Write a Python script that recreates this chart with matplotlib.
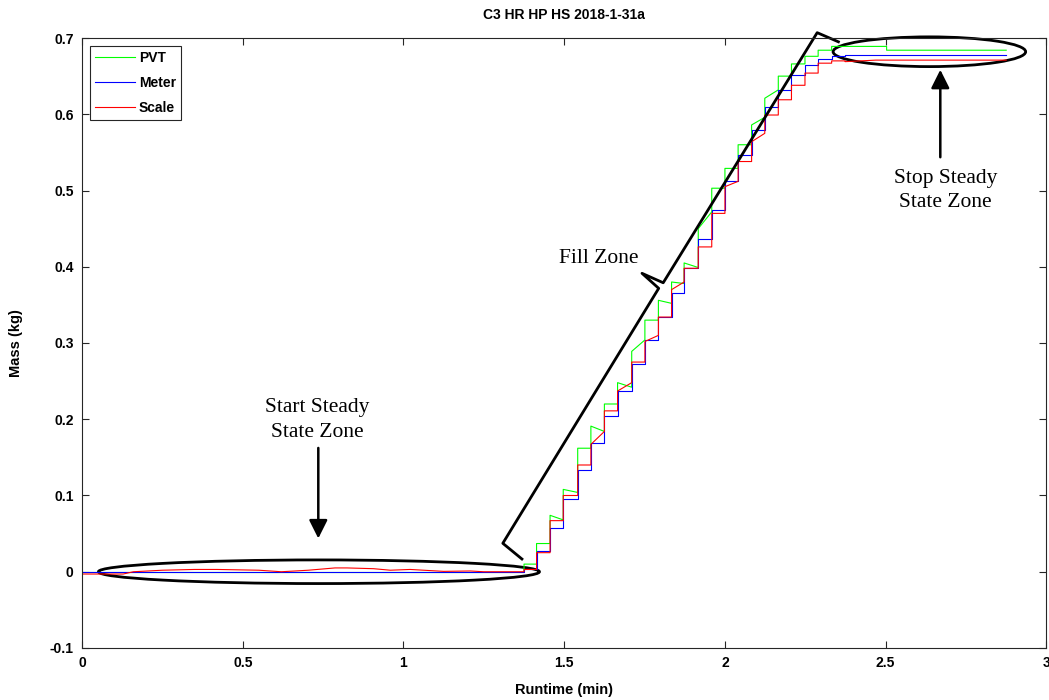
import numpy as np
import matplotlib
matplotlib.use('Agg')
import matplotlib.pyplot as plt
from matplotlib.patches import Ellipse

plt.rcParams['font.family'] = ['Liberation Sans', 'DejaVu Sans']

# fill zone: start time of every plateau (min)
fill_t = [1.375, 1.414, 1.456, 1.497, 1.542, 1.583, 1.625, 1.666, 1.710, 1.751, 1.793, 1.834,
          1.873, 1.917, 1.959, 2.000, 2.041, 2.083, 2.124, 2.166, 2.207, 2.249, 2.290, 2.332]
fill_end = 2.374

# PVT plateau (value just after jump / value just before next jump)
pvt_top = [0.010, 0.037, 0.074, 0.108, 0.162, 0.191, 0.220, 0.248, 0.289, 0.330, 0.356, 0.380,
           0.405, 0.450, 0.503, 0.529, 0.560, 0.586, 0.621, 0.650, 0.666, 0.676, 0.684, 0.689]
pvt_end = [0.010, 0.037, 0.068, 0.104, 0.162, 0.184, 0.220, 0.242, 0.304, 0.330, 0.352, 0.378,
           0.399, 0.472, 0.503, 0.529, 0.560, 0.596, 0.632, 0.650, 0.666, 0.676, 0.684, 0.689]
meter_lvl = [0.003, 0.027, 0.057, 0.095, 0.133, 0.169, 0.204, 0.237, 0.272, 0.304, 0.334, 0.365,
             0.398, 0.436, 0.475, 0.512, 0.547, 0.580, 0.610, 0.632, 0.651, 0.664, 0.672, 0.677]
scale_top = [0.003, 0.025, 0.067, 0.100, 0.140, 0.167, 0.211, 0.237, 0.275, 0.302, 0.334, 0.370,
             0.398, 0.426, 0.470, 0.505, 0.538, 0.564, 0.599, 0.619, 0.638, 0.654, 0.667, 0.670]
scale_end = [0.003, 0.025, 0.067, 0.100, 0.140, 0.184, 0.211, 0.248, 0.275, 0.310, 0.334, 0.380,
             0.398, 0.426, 0.470, 0.512, 0.538, 0.575, 0.599, 0.619, 0.638, 0.654, 0.667, 0.670]

# start steady state (before fill)
pvt_pre_t = [0.0, 1.375]
pvt_pre_m = [-0.001, -0.001]
meter_pre_t = [0.0, 1.375]
meter_pre_m = [0.0, 0.0]
scale_pre_t = [0.0, 0.128, 0.16, 0.25, 0.35, 0.42, 0.55, 0.62, 0.663, 0.704, 0.787, 0.824,
               0.907, 0.959, 1.021, 1.125, 1.208, 1.249, 1.332, 1.375]
scale_pre_m = [-0.003, -0.003, 0.000, 0.002, 0.003, 0.003, 0.002, 0.000, 0.001, 0.002, 0.005, 0.005,
               0.004, 0.002, 0.003, 0.0005, 0.001, 0.0, 0.0, 0.0]

# stop steady state (after fill)
pvt_post_t = [2.374, 2.503, 2.503, 2.875]
pvt_post_m = [0.689, 0.689, 0.684, 0.684]
meter_post_t = [2.374, 2.875]
meter_post_m = [0.678, 0.678]
scale_post_t = [2.374, 2.47, 2.875]
scale_post_m = [0.669, 0.671, 0.671]


def build(pre_t, pre_m, top, end, post_t, post_m):
    t = list(pre_t)
    m = list(pre_m)
    starts = fill_t
    stops = fill_t[1:] + [fill_end]
    for a, b, v0, v1 in zip(starts, stops, top, end):
        t += [a, b]
        m += [v0, v1]
    t += post_t
    m += post_m
    return t, m


fig = plt.figure(figsize=(10.49, 7.0), dpi=100)
ax = fig.add_axes([0.0782, 0.0743, 0.9193, 0.8714])

t, m = build(pvt_pre_t, pvt_pre_m, pvt_top, pvt_end, pvt_post_t, pvt_post_m)
ax.plot(t, m, color=(0, 1, 0), lw=0.8, label='PVT')
t, m = build(meter_pre_t, meter_pre_m, meter_lvl, meter_lvl, meter_post_t, meter_post_m)
ax.plot(t, m, color=(0, 0, 1), lw=0.8, label='Meter')
t, m = build(scale_pre_t, scale_pre_m, scale_top, scale_end, scale_post_t, scale_post_m)
ax.plot(t, m, color=(1, 0, 0), lw=0.8, label='Scale')

ax.set_xlim(0, 3)
ax.set_ylim(-0.1, 0.7)
ax.set_xticks([0, 0.5, 1, 1.5, 2, 2.5, 3])
ax.set_xticklabels(['0', '0.5', '1', '1.5', '2', '2.5', '3'])
ax.set_yticks([-0.1, 0, 0.1, 0.2, 0.3, 0.4, 0.5, 0.6, 0.7])
ax.set_yticklabels(['-0.1', '0', '0.1', '0.2', '0.3', '0.4', '0.5', '0.6', '0.7'])
ax.tick_params(direction='in', top=True, right=True, length=5, width=0.8, color='#262626',
               labelsize=10, pad=6)
for lab in ax.get_xticklabels() + ax.get_yticklabels():
    lab.set_fontweight('bold')
for s in ax.spines.values():
    s.set_color('#262626')
    s.set_linewidth(0.8)

ax.set_xlabel('Runtime (min)', fontsize=10.5, fontweight='bold', labelpad=9)
ax.set_ylabel('Mass (kg)', fontsize=10.5, fontweight='bold', labelpad=19)
ax.set_title('C3 HR HP HS 2018-1-31a', fontsize=10, fontweight='bold', pad=14)

leg = ax.legend(loc='upper left', fontsize=10, frameon=True, fancybox=False, framealpha=1,
                edgecolor='#262626', borderpad=0.35, handlelength=2.9, handletextpad=0.3,
                labelspacing=0.8, borderaxespad=0.55)
for txt in leg.get_texts():
    txt.set_fontweight('bold')
leg.get_frame().set_linewidth(0.8)

# annotations
serif = ['Liberation Serif', 'DejaVu Serif']
ax.add_patch(Ellipse((0.737, 0.0), 1.372, 0.031, fill=False, lw=2, ec='k', clip_on=False))
ax.add_patch(Ellipse((2.636, 0.682), 0.599, 0.039, fill=False, lw=2, ec='k', clip_on=False))

ax.annotate('', xy=(0.735, 0.040), xytext=(0.735, 0.166),
            arrowprops=dict(arrowstyle='-|>', lw=1.8, color='k', mutation_scale=28))
ax.annotate('', xy=(2.670, 0.662), xytext=(2.670, 0.540),
            arrowprops=dict(arrowstyle='-|>', lw=1.8, color='k', mutation_scale=28))

ax.text(0.731, 0.199, 'Start Steady\nState Zone', ha='center', va='center', fontsize=15.5,
        family=serif, linespacing=1.38)
ax.text(2.686, 0.500, 'Stop Steady\nState Zone', ha='center', va='center', fontsize=15.5,
        family=serif, linespacing=1.38)
ax.text(1.606, 0.411, 'Fill Zone', ha='center', va='center', fontsize=15.5, family=serif)

brace_t = [1.3685, 1.309, 1.794, 1.742, 1.808, 2.287, 2.353]
brace_m = [0.0167, 0.0373, 0.3717, 0.3914, 0.379, 0.707, 0.695]
ax.plot(brace_t, brace_m, color='k', lw=2, clip_on=False, solid_joinstyle='round')

fig.savefig('out.png', dpi=100)
